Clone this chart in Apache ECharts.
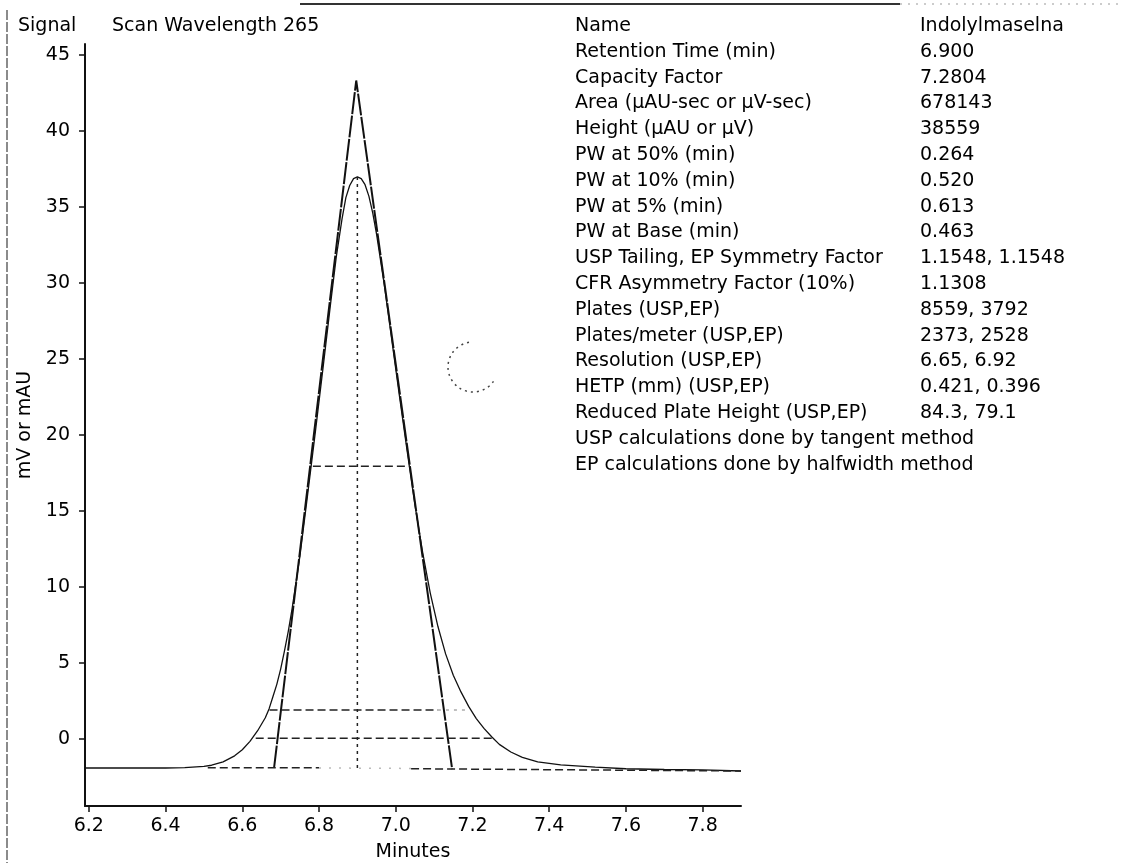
<!DOCTYPE html>
<html>
<head>
<meta charset="utf-8">
<script src="https://cdn.jsdelivr.net/npm/echarts@6/dist/echarts.min.js"></script>
<style>
html, body { margin: 0; padding: 0; background: #fff; }
#chart { width: 1122px; height: 863px; }
</style>
</head>
<body>
<div id="chart"></div>
<script>
// chromatogram trace
var curveX = [6.19, 6.30, 6.40, 6.45, 6.50, 6.52, 6.55, 6.58, 6.60, 6.62, 6.64, 6.66, 6.67, 6.68, 6.69, 6.70, 6.71, 6.72, 6.73,
    6.75, 6.77, 6.79, 6.81, 6.83, 6.845, 6.86, 6.87, 6.88, 6.89, 6.90, 6.91, 6.92, 6.93, 6.94, 6.95, 6.97, 6.99,
    7.01, 7.03, 7.05, 7.07, 7.09, 7.11, 7.13, 7.15, 7.17, 7.19, 7.21, 7.23, 7.25, 7.27, 7.30, 7.33, 7.37, 7.43,
    7.52, 7.60, 7.70, 7.80, 7.90];
var curveY = [-1.9, -1.9, -1.9, -1.88, -1.8, -1.72, -1.5, -1.1, -0.7, -0.15, 0.55, 1.4, 2.0, 2.8, 3.6, 4.6, 5.8, 7.1, 8.6,
    12.0, 16.0, 20.1, 24.3, 28.6, 31.7, 34.2, 35.6, 36.4, 36.85, 36.96, 36.85, 36.45, 35.7, 34.6, 33.2, 29.9, 26.2,
    22.5, 18.9, 15.4, 12.3, 9.6, 7.4, 5.6, 4.2, 3.1, 2.15, 1.35, 0.7, 0.15, -0.35, -0.85, -1.2, -1.5, -1.7,
    -1.85, -1.95, -2.0, -2.03, -2.1];

// tangent triangle
var tangentX = [6.683, 6.897, 7.147];
var tangentY = [-1.86, 43.3, -1.97];

// width lines (50%, 10%, 5%) and baseline pieces
var halfX = [6.784, 7.036];
var halfY = [17.93, 17.93];
var tenX = [6.671, 7.11];
var tenY = [1.92, 1.92];
var tenFaintX = [7.11, 7.19];
var tenFaintY = [1.92, 1.92];
var fiveX = [6.635, 7.26];
var fiveY = [0.05, 0.05];
var baseLeftX = [6.51, 6.80];
var baseLeftY = [-1.88, -1.88];
var baseMidX = [6.80, 7.04];
var baseMidY = [-1.9, -1.93];
var baseRightX = [7.04, 7.90];
var baseRightY = [-1.95, -2.1];
var centerX = [6.9, 6.9];
var centerY = [-1.9, 36.96];

var xTicks = [6.2, 6.4, 6.6, 6.8, 7.0, 7.2, 7.4, 7.6, 7.8];
var yTicks = [0, 5, 10, 15, 20, 25, 30, 35, 40, 45];

var infoNames = ['Name', 'Retention Time (min)', 'Capacity Factor', 'Area (µAU-sec or µV-sec)', 'Height (µAU or µV)',
    'PW at 50% (min)', 'PW at 10% (min)', 'PW at 5% (min)', 'PW at Base (min)', 'USP Tailing, EP Symmetry Factor',
    'CFR Asymmetry Factor (10%)', 'Plates (USP,EP)', 'Plates/meter (USP,EP)', 'Resolution (USP,EP)',
    'HETP (mm) (USP,EP)', 'Reduced Plate Height (USP,EP)', 'USP calculations done by tangent method',
    'EP calculations done by halfwidth method'];
var infoValues = ['Indolylmaselna', '6.900', '7.2804', '678143', '38559', '0.264', '0.520', '0.613', '0.463',
    '1.1548, 1.1548', '1.1308', '8559, 3792', '2373, 2528', '6.65, 6.92', '0.421, 0.396', '84.3, 79.1', '', ''];

function pairs(xs, ys) {
    var out = [];
    for (var i = 0; i < xs.length; i++) out.push([xs[i], ys[i]]);
    return out;
}

var font = 'DejaVu Sans';
var fs = 19;
var fontStr = fs + 'px "' + font + '"';
var ink = '#000';

function dashed(name, xs, ys, dash, color) {
    return {
        name: name, type: 'line', data: pairs(xs, ys), symbol: 'none', silent: true,
        lineStyle: { color: color || '#222', width: 1.5, type: dash || [8, 4] }
    };
}

var graphics = [
    { type: 'line', shape: { x1: 300, y1: 4, x2: 900, y2: 4 }, style: { stroke: '#333', lineWidth: 2 } },
    { type: 'line', shape: { x1: 900, y1: 4, x2: 1122, y2: 4 }, style: { stroke: '#999', lineWidth: 1, lineDash: [2, 6] } },
    { type: 'line', shape: { x1: 7, y1: 10, x2: 7, y2: 863 }, style: { stroke: '#666', lineWidth: 1.5, lineDash: [10, 2] } },
    // the dotted smudge on the scan
    { type: 'arc', shape: { cx: 473, cy: 367, r: 25, startAngle: 0.61, endAngle: 4.63, clockwise: true },
        style: { stroke: '#444', lineWidth: 1.5, lineDash: [2, 4], fill: null } },
    { type: 'text', style: { text: 'Signal', x: 18, y: 26, font: fontStr, fill: ink, verticalAlign: 'middle' } },
    { type: 'text', style: { text: 'Scan Wavelength 265', x: 112, y: 26, font: fontStr, fill: ink, verticalAlign: 'middle' } }
];
infoNames.forEach(function (n, i) {
    var y = 26 + 25.8 * i;
    graphics.push({ type: 'text', style: { text: n, x: 575, y: y, font: fontStr, fill: ink, verticalAlign: 'middle' } });
    if (infoValues[i]) {
        graphics.push({ type: 'text', style: { text: infoValues[i], x: 920, y: y, font: fontStr, fill: ink, verticalAlign: 'middle' } });
    }
});

var option = {
    backgroundColor: '#fff',
    animation: false,
    textStyle: { fontFamily: font },
    grid: { left: 85, right: 381, top: 44, bottom: 57, containLabel: false, outerBoundsMode: 'none' },
    xAxis: {
        type: 'value', min: 6.19, max: 7.9,
        name: 'Minutes', nameLocation: 'middle', nameGap: 37,
        nameTextStyle: { color: ink, fontSize: fs, fontFamily: font },
        axisLine: { show: true, onZero: false, lineStyle: { color: '#111', width: 2 } },
        axisTick: { show: true, customValues: xTicks, length: 6, lineStyle: { color: '#111', width: 1.5 } },
        axisLabel: { customValues: xTicks, margin: 11, color: ink, fontSize: fs, fontFamily: font,
            formatter: function (v) { return v.toFixed(1); } },
        splitLine: { show: false }
    },
    yAxis: {
        type: 'value', min: -4.4, max: 45.7,
        name: 'mV or mAU', nameLocation: 'middle', nameGap: 49, nameRotate: 90,
        nameTextStyle: { color: ink, fontSize: fs, fontFamily: font },
        axisLine: { show: true, onZero: false, lineStyle: { color: '#111', width: 2 } },
        axisTick: { show: true, customValues: yTicks, length: 6, lineStyle: { color: '#111', width: 1.5 } },
        axisLabel: { customValues: yTicks, margin: 15, color: ink, fontSize: fs, fontFamily: font },
        splitLine: { show: false }
    },
    series: [
        {
            name: 'Signal', type: 'line', data: pairs(curveX, curveY), symbol: 'none', silent: true,
            lineStyle: { color: '#111', width: 1.3 }
        },
        {
            name: 'Tangent', type: 'line', data: pairs(tangentX, tangentY), symbol: 'none', silent: true,
            lineStyle: { color: '#111', width: 2, type: [22, 1.5] }
        },
        dashed('PW 50%', halfX, halfY),
        dashed('PW 10%', tenX, tenY),
        dashed('PW 10% faint', tenFaintX, tenFaintY, [3, 5], '#aaa'),
        dashed('PW 5%', fiveX, fiveY),
        dashed('Base L', baseLeftX, baseLeftY),
        dashed('Base M', baseMidX, baseMidY, [2, 8], '#bbb'),
        dashed('Base R', baseRightX, baseRightY),
        dashed('Center', centerX, centerY, [3, 4])
    ],
    graphic: graphics
};

var chart = echarts.init(document.getElementById('chart'));
chart.setOption(option);
</script>
</body>
</html>
